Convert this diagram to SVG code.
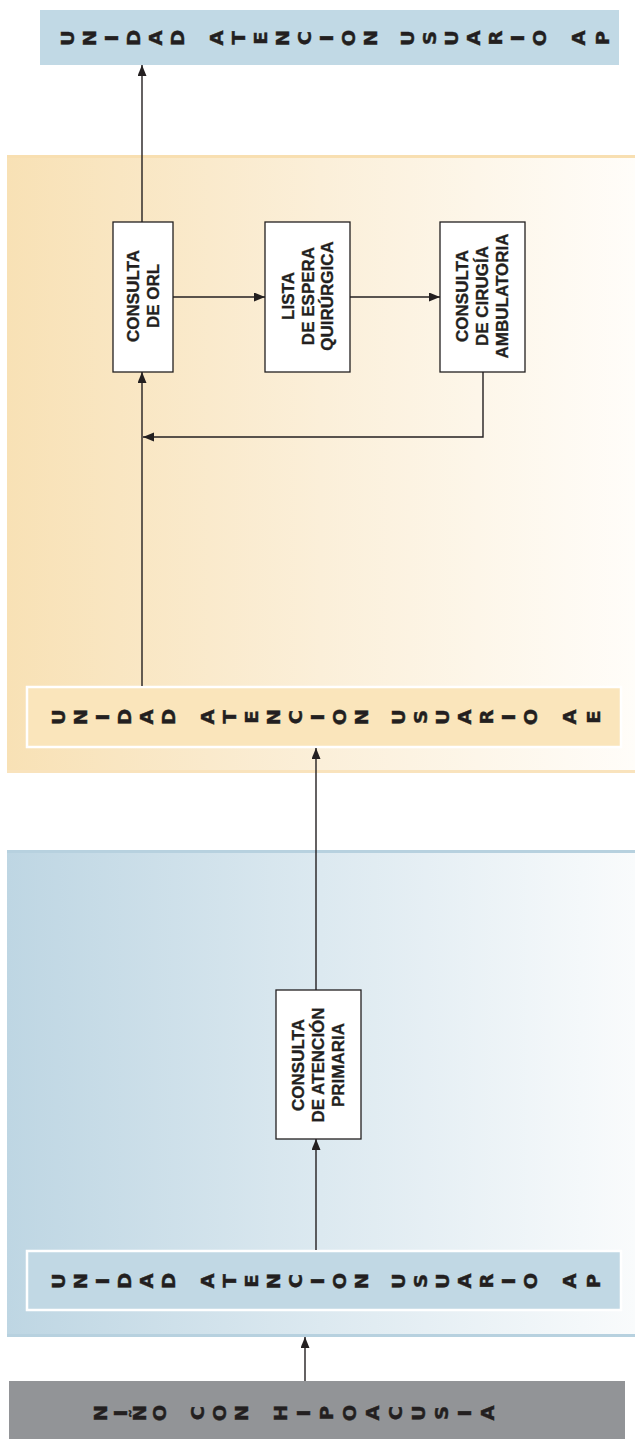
<svg xmlns="http://www.w3.org/2000/svg" width="635" height="1439" viewBox="0 0 635 1439">
<defs>
<linearGradient id="gOr" x1="0" y1="0" x2="1" y2="0">
<stop offset="0" stop-color="#f8e1b5"/>
<stop offset="0.5" stop-color="#fbefd9"/>
<stop offset="1" stop-color="#fffdf9"/>
</linearGradient>
<linearGradient id="gBl" x1="0" y1="0" x2="1" y2="0">
<stop offset="0" stop-color="#bed6e3"/>
<stop offset="0.5" stop-color="#dce9f0"/>
<stop offset="1" stop-color="#f9fbfc"/>
</linearGradient>
<marker id="ah" markerUnits="userSpaceOnUse" markerWidth="12" markerHeight="10" refX="11" refY="4.5" orient="auto">
<path d="M0,0 L11,4.5 L0,9 Z" fill="#231f20"/>
</marker>
<style>
.box{fill:#fff;stroke:#231f20;stroke-width:1.3}
.lbl{font-family:"Liberation Sans",Arial,sans-serif;font-weight:bold;font-size:17px;fill:#231f20;stroke:#231f20;stroke-width:0.35;text-anchor:middle}
.hdr{font-family:"DejaVu Sans",sans-serif;font-weight:bold;font-size:17px;fill:#231f20;stroke:#231f20;stroke-width:0.4}
.con{fill:none;stroke:#231f20;stroke-width:1.4}
</style>
</defs>
<rect width="635" height="1439" fill="#fff"/>

<g id="panel-ae">
<rect x="7" y="155" width="628" height="618" fill="url(#gOr)"/>
<rect x="7" y="155" width="628" height="3" fill="#f8dfb1"/>
<rect x="7" y="770" width="628" height="3" fill="#f9e3bd"/>
</g>
<g id="panel-ap">
<rect x="7" y="850" width="628" height="487" fill="url(#gBl)"/>
<rect x="7" y="850" width="628" height="3" fill="#b7d1df"/>
<rect x="7" y="1334" width="628" height="3" fill="#b7d1df"/>
</g>

<g id="uap-top">
<rect x="40" y="10" width="579" height="55" fill="#c1d9e5"/>
<text class="hdr" transform="translate(9,38) scale(1,1.15)" rotate="-90" x="64.7 86.7 108.7 130.7 152.7 174.7 194.2 214.2 236.2 258.2 280.2 302.2 324.2 346.2 368.2 386.2 405.2 427.2 449.2 471.2 493.2 515.2 537.2 556.2 576.2 600.2" y="6.9 7.1 3.2 7.05 6.55 7.05 0 6.55 5.75 5.8 7.1 6.25 3.2 7.2 7.1 0 6.9 6.15 6.9 6.55 6.55 3.2 7.2 0 6.55 6.25">UNIDAD ATENCION USUARIO AP</text>
</g>

<g id="uae">
<rect x="27" y="687" width="594" height="60" fill="#fae5bb" stroke="#fff" stroke-width="2.5"/>
<text class="hdr" transform="translate(0,717) scale(1,1.15)" rotate="-90" x="64.7 86.7 108.7 130.7 152.7 174.7 194.2 214.2 236.2 258.2 280.2 302.2 324.2 346.2 368.2 386.2 405.2 427.2 449.2 471.2 493.2 515.2 537.2 556.2 576.2 600.2" y="6.9 7.1 3.2 7.05 6.55 7.05 0 6.55 5.75 5.8 7.1 6.25 3.2 7.2 7.1 0 6.9 6.15 6.9 6.55 6.55 3.2 7.2 0 6.55 5.8">UNIDAD ATENCION USUARIO AE</text>
</g>

<g id="uap">
<rect x="27" y="1251" width="594" height="59" fill="#c1d8e4" stroke="#fff" stroke-width="2.5"/>
<text class="hdr" transform="translate(0,1281) scale(1,1.15)" rotate="-90" x="64.7 86.7 108.7 130.7 152.7 174.7 194.2 214.2 236.2 258.2 280.2 302.2 324.2 346.2 368.2 386.2 405.2 427.2 449.2 471.2 493.2 515.2 537.2 556.2 576.2 600.2" y="6.9 7.1 3.2 7.05 6.55 7.05 0 6.55 5.75 5.8 7.1 6.25 3.2 7.2 7.1 0 6.9 6.15 6.9 6.55 6.55 3.2 7.2 0 6.55 6.25">UNIDAD ATENCION USUARIO AP</text>
</g>

<g id="nino">
<rect x="9" y="1381" width="616" height="58" fill="#929497"/>
<text class="hdr" transform="translate(0,1413) scale(1,1.15)" rotate="-90" x="107.2 126.7 146.2 165.7 184.2 204.2 226.2 248.2 267.2 287.2 310.2 333.2 356.2 379.2 402.2 425.2 448.2 471.2 494.2" y="7.1 3.2 7.1 7.2 0 6.25 7.2 7.1 0 7.1 3.2 6.25 7.2 6.55 6.25 6.9 6.15 3.2 6.55">NIÑO CON HIPOACUSIA</text>
</g>

<g id="orl">
<rect class="box" x="113" y="222" width="60" height="150"/>
<text class="lbl" transform="translate(143,296) rotate(-90)"><tspan x="0" y="-3.9">CONSULTA</tspan><tspan x="0" y="16.1">DE ORL</tspan></text>
</g>
<g id="lista">
<rect class="box" x="265" y="222" width="85" height="150"/>
<text class="lbl" transform="translate(307.5,296) rotate(-90)"><tspan x="0" y="-13.4">LISTA</tspan><tspan x="0" y="6.1">DE ESPERA</tspan><tspan x="0" y="25.6">QUIRÚRGICA</tspan></text>
</g>
<g id="cca">
<rect class="box" x="440" y="222" width="85" height="150"/>
<text class="lbl" transform="translate(482.5,296) rotate(-90)"><tspan x="0" y="-14.4">CONSULTA</tspan><tspan x="0" y="5.6">DE CIRUGÍA</tspan><tspan x="0" y="25.6">AMBULATORIA</tspan></text>
</g>
<g id="cap">
<rect class="box" x="276" y="990" width="85" height="149"/>
<text class="lbl" transform="translate(318.5,1065) rotate(-90)"><tspan x="0" y="-14.4">CONSULTA</tspan><tspan x="0" y="5.6">DE ATENCIÓN</tspan><tspan x="0" y="25.6">PRIMARIA</tspan></text>
</g>

<g id="connectors">
<path class="con" d="M142,222 V65" marker-end="url(#ah)"/>
<path class="con" d="M173,297 H265" marker-end="url(#ah)"/>
<path class="con" d="M350,297 H440" marker-end="url(#ah)"/>
<path class="con" d="M483,372 V437 H143" marker-end="url(#ah)"/>
<path class="con" d="M142,686 V372" marker-end="url(#ah)"/>
<path class="con" d="M316,990 V748" marker-end="url(#ah)"/>
<path class="con" d="M316,1250 V1139" marker-end="url(#ah)"/>
<path class="con" d="M305,1381 V1337" marker-end="url(#ah)"/>
</g>
</svg>
